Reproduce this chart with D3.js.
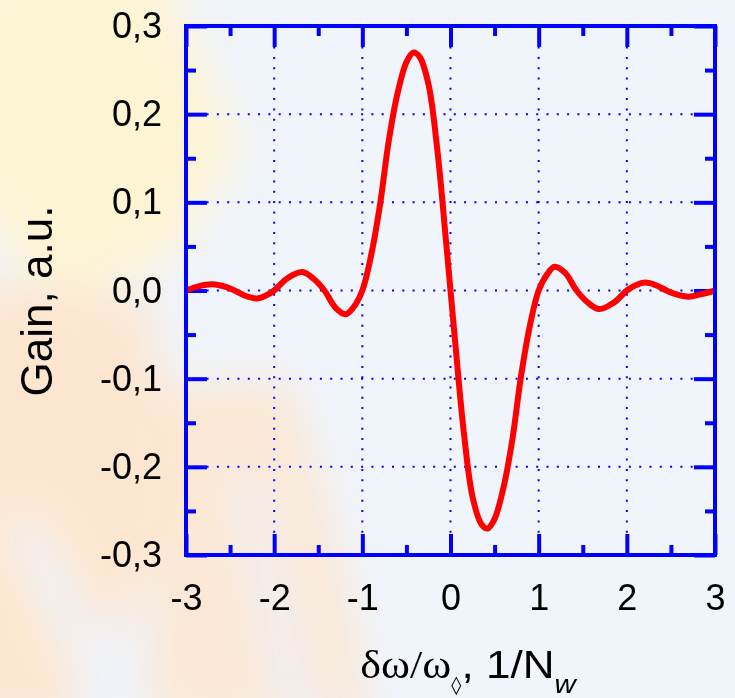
<!DOCTYPE html>
<html>
<head>
<meta charset="utf-8">
<script src="https://cdn.jsdelivr.net/npm/d3@7"></script>
<style>
  body { margin: 0; background: #f0f4fb; }
  svg { display: block; }
  .tick text { font-family: "Liberation Sans", Arial, sans-serif; fill: #000; }
</style>
</head>
<body>
<div id="vis1"></div>
<script>
const FRAME_WIDTH = 735;
const FRAME_HEIGHT = 698;
const MARGINS = {left: 186, right: 20, top: 26, bottom: 143};

const VIS_WIDTH = FRAME_WIDTH - MARGINS.left - MARGINS.right;
const VIS_HEIGHT = FRAME_HEIGHT - MARGINS.top - MARGINS.bottom;

// values
const X_VALUES = [-3.0, -2.85, -2.7, -2.55, -2.45, -2.33, -2.2, -2.1, -2.0, -1.85, -1.68, -1.55, -1.43,
  -1.3, -1.19, -1.1, -1.0, -0.9, -0.8, -0.7, -0.6, -0.5, -0.42, -0.35, -0.25, -0.15, -0.05, 0,
  0.05, 0.15, 0.25, 0.35, 0.42, 0.5, 0.6, 0.7, 0.8, 0.9, 1.0, 1.1, 1.18, 1.3, 1.43, 1.55, 1.68,
  1.85, 2.0, 2.1, 2.21, 2.33, 2.45, 2.55, 2.7, 2.85, 3.0];
const GAIN = [0.0, 0.005, 0.007, 0.004, 0.0, -0.006, -0.009, -0.006, 0.0, 0.014, 0.021, 0.013, 0.0,
  -0.020, -0.027, -0.019, 0.0, 0.040, 0.097, 0.170, 0.224, 0.259, 0.270, 0.265, 0.234, 0.160, 0.055, 0,
  -0.055, -0.160, -0.234, -0.265, -0.270, -0.259, -0.224, -0.170, -0.097, -0.040, 0.0, 0.019, 0.027,
  0.020, 0.0, -0.013, -0.021, -0.014, 0.0, 0.006, 0.009, 0.006, 0.0, -0.004, -0.007, -0.004, 0.0];

const X_TICKS = [-3, -2, -1, 0, 1, 2, 3];
const X_MINOR = [-2.5, -1.5, -0.5, 0.5, 1.5, 2.5];
const Y_TICKS = [-0.3, -0.2, -0.1, 0.0, 0.1, 0.2, 0.3];
const Y_MINOR = [-0.25, -0.15, -0.05, 0.05, 0.15, 0.25];
const X_GRID = [-2, -1, 0, 1, 2];
const Y_GRID = [-0.2, -0.1, 0.0, 0.1, 0.2];

const BLUE = '#0000ff';

const FRAME1 = d3.select('#vis1')
  .append('svg')
    .attr('width', FRAME_WIDTH)
    .attr('height', FRAME_HEIGHT);

// soft background decoration
const defs = FRAME1.append('defs');
defs.append('filter').attr('id', 'blur')
  .attr('x', '-50%').attr('y', '-50%').attr('width', '200%').attr('height', '200%')
  .append('feGaussianBlur').attr('stdDeviation', 22);

const BG = FRAME1.append('g').attr('filter', 'url(#blur)');
BG.append('path').attr('d', 'M-40,-40 L160,-40 L240,150 L170,260 L60,300 L-40,200 Z')
  .attr('fill', '#fff3cc').attr('opacity', 0.85);
BG.append('path').attr('d', 'M-40,280 L150,300 L170,520 L70,720 L-40,720 Z')
  .attr('fill', '#fde5cc').attr('opacity', 0.95);
BG.append('path').attr('d', 'M150,390 L290,380 L340,560 L370,720 L150,720 Z')
  .attr('fill', '#fde5cc').attr('opacity', 0.85);
BG.append('path').attr('d', 'M0,520 L40,520 L150,720 L95,720 Z')
  .attr('fill', '#eef3fb').attr('opacity', 0.9);
BG.append('path').attr('d', 'M230,480 L260,470 L320,720 L280,720 Z')
  .attr('fill', '#eef3fb').attr('opacity', 0.8);

const X_SCALE = d3.scaleLinear().domain([-3, 3]).range([0, VIS_WIDTH]);
const Y_SCALE = d3.scaleLinear().domain([-0.3, 0.3]).range([VIS_HEIGHT, 0]);

const PLOT = FRAME1.append('g')
  .attr('transform', 'translate(' + MARGINS.left + ',' + MARGINS.top + ')');

// dotted grid
PLOT.selectAll('.vgrid').data(X_GRID).enter().append('line')
  .attr('x1', d => X_SCALE(d)).attr('x2', d => X_SCALE(d))
  .attr('y1', 0).attr('y2', VIS_HEIGHT)
  .attr('stroke', BLUE).attr('stroke-width', 2)
  .attr('stroke-dasharray', '2,8.3');
PLOT.selectAll('.hgrid').data(Y_GRID).enter().append('line')
  .attr('y1', d => Y_SCALE(d)).attr('y2', d => Y_SCALE(d))
  .attr('x1', 0).attr('x2', VIS_WIDTH)
  .attr('stroke', BLUE).attr('stroke-width', 2)
  .attr('stroke-dasharray', '2,8.3');

// axes: major and minor ticks pointing inward on all sides
function styleAxis(g) {
  g.select('.domain').remove();
  g.selectAll('.tick line').attr('stroke', BLUE).attr('stroke-width', 4);
}
const fmtX = d => String(d);
const fmtY = d => d3.format('.1f')(d).replace('.', ',').replace('\u2212', '-');

PLOT.append('g').attr('transform', 'translate(0,' + VIS_HEIGHT + ')')
  .call(d3.axisBottom(X_SCALE).tickValues(X_MINOR).tickSize(-10).tickFormat(''))
  .call(styleAxis);
PLOT.append('g').attr('transform', 'translate(0,' + VIS_HEIGHT + ')')
  .call(d3.axisBottom(X_SCALE).tickValues(X_TICKS).tickSize(-21).tickPadding(29).tickFormat(fmtX))
  .call(styleAxis)
  .selectAll('text').attr('font-size', '36px');
PLOT.append('g')
  .call(d3.axisTop(X_SCALE).tickValues(X_MINOR).tickSize(-10).tickFormat(''))
  .call(styleAxis);
PLOT.append('g')
  .call(d3.axisTop(X_SCALE).tickValues(X_TICKS).tickSize(-21).tickFormat(''))
  .call(styleAxis);

PLOT.append('g')
  .call(d3.axisLeft(Y_SCALE).tickValues(Y_MINOR).tickSize(-10).tickFormat(''))
  .call(styleAxis);
PLOT.append('g')
  .call(d3.axisLeft(Y_SCALE).tickValues(Y_TICKS).tickSize(-21).tickPadding(24).tickFormat(fmtY))
  .call(styleAxis)
  .selectAll('text').attr('font-size', '36px');
PLOT.append('g').attr('transform', 'translate(' + VIS_WIDTH + ',0)')
  .call(d3.axisRight(Y_SCALE).tickValues(Y_MINOR).tickSize(-10).tickFormat(''))
  .call(styleAxis);
PLOT.append('g').attr('transform', 'translate(' + VIS_WIDTH + ',0)')
  .call(d3.axisRight(Y_SCALE).tickValues(Y_TICKS).tickSize(-21).tickFormat(''))
  .call(styleAxis);

// curve
const line = d3.line()
  .x((d, i) => X_SCALE(X_VALUES[i]))
  .y(d => Y_SCALE(d))
  .curve(d3.curveCatmullRom.alpha(0.5));

PLOT.append('path')
  .datum(GAIN)
  .attr('d', line)
  .attr('fill', 'none')
  .attr('stroke', '#ff0000')
  .attr('stroke-width', 6)
  .attr('stroke-linejoin', 'round');

// frame
PLOT.append('rect')
  .attr('x', 0).attr('y', 0)
  .attr('width', VIS_WIDTH).attr('height', VIS_HEIGHT)
  .attr('fill', 'none')
  .attr('stroke', BLUE).attr('stroke-width', 4);

// axis titles
FRAME1.append('text')
  .attr('transform', 'translate(52,301) rotate(-90)')
  .attr('text-anchor', 'middle')
  .attr('font-family', '"Liberation Sans", Arial, sans-serif')
  .attr('font-size', '44px')
  .text('Gain, a.u.');

const XT = FRAME1.append('text')
  .attr('transform', 'translate(468,678) scale(1.13,1)')
  .attr('text-anchor', 'middle')
  .attr('font-size', '39px');
XT.append('tspan').attr('font-family', '"Liberation Serif", "Times New Roman", serif').text('δω/ω');
XT.append('tspan').attr('font-family', '"DejaVu Sans", sans-serif').attr('font-size', '18px')
  .attr('dy', 13).text('◊');
XT.append('tspan').attr('font-family', '"Liberation Sans", Arial, sans-serif')
  .attr('dy', -13).text(', 1/N');
XT.append('tspan').attr('font-family', '"Liberation Sans", Arial, sans-serif')
  .attr('font-style', 'italic').attr('font-size', '26px')
  .attr('dy', 15).text('w');
</script>
</body>
</html>
